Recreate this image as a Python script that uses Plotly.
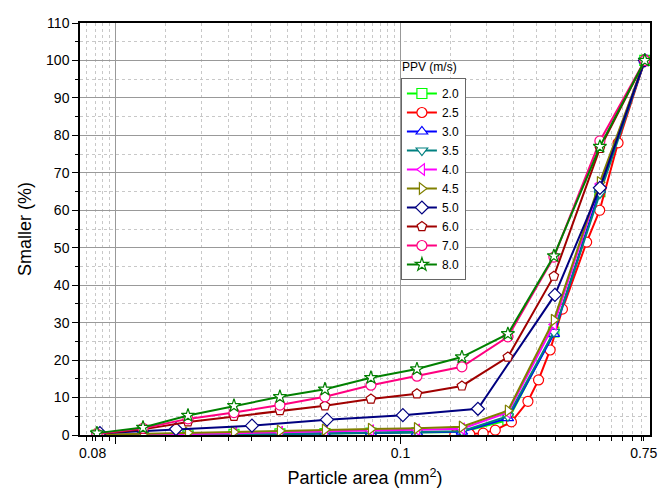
import plotly.graph_objects as go
import math

# ---------------- data ----------------
ppv_labels = ["2.0", "2.5", "3.0", "3.5", "4.0", "4.5", "5.0", "6.0", "7.0", "8.0"]

# particle area (mm^2) sample points
x_grid = [0.0086, 0.01248, 0.01795, 0.02603, 0.03773, 0.05429, 0.07873,
          0.1142, 0.1642, 0.2381, 0.3453, 0.5008, 0.72]
x_diam = [0.00881, 0.01629, 0.0301, 0.05518, 0.1019, 0.1869, 0.3481, 0.5008, 0.72]
x_red = [0.155, 0.175, 0.195, 0.215, 0.245, 0.28, 0.305, 0.335, 0.37, 0.45, 0.5, 0.58, 0.72]

y_20 = [0, 0, 0, 0.2, 0.3, 0.4, 0.5, 0.6, 0.8, 4.0, 27.5, 65.0, 100]
y_25 = [0, 0.2, 0.5, 1.3, 3.5, 9.0, 14.7, 22.7, 33.6, 51.5, 60.0, 78.0, 100]
y_30 = [0, 0, 0.1, 0.2, 0.3, 0.4, 0.5, 0.6, 0.9, 4.5, 27.0, 65.5, 100]
y_35 = [0, 0, 0.1, 0.2, 0.3, 0.5, 0.6, 0.8, 1.0, 5.0, 27.5, 64.5, 100]
y_40 = [0, 0.1, 0.3, 0.5, 0.8, 1.0, 1.2, 1.4, 1.7, 6.0, 29.5, 67.0, 100]
y_45 = [0.1, 0.3, 0.6, 0.8, 1.1, 1.4, 1.6, 1.8, 2.2, 6.5, 30.7, 67.5, 100]
y_50 = [0.5, 1.6, 2.5, 4.1, 5.3, 7.0, 37.4, 66.0, 100]
y_60 = [0.3, 1.5, 3.5, 5.0, 6.5, 7.8, 9.6, 11.0, 13.1, 20.8, 42.4, 76.5, 100]
y_70 = [0.3, 1.8, 4.3, 6.0, 8.0, 10.2, 13.3, 15.7, 18.2, 26.2, 47.5, 78.5, 100]
y_80 = [0.5, 2.0, 5.2, 7.8, 10.2, 12.2, 15.3, 17.6, 20.8, 27.0, 47.8, 77.0, 100]

x_tick_vals = [0.0083, 0.1, 0.714]
x_tick_text = ["0.08", "0.1", "0.75"]
x_major_grid = [0.01, 0.1]
x_minor_vals = [0.0079, 0.0085, 0.009, 0.0095,
                0.015, 0.02, 0.025, 0.03, 0.035, 0.04, 0.045, 0.05, 0.055, 0.06,
                0.065, 0.07, 0.075, 0.08, 0.085, 0.09, 0.095,
                0.15, 0.2, 0.25, 0.3, 0.35, 0.4, 0.45, 0.5, 0.55, 0.6, 0.65, 0.7]

# ---------------- styles ----------------
series = [
    ("2.0", x_grid, y_20, "#00FF00", "square"),
    ("2.5", x_red, y_25, "#FF0000", "circle"),
    ("3.0", x_grid, y_30, "#0000FF", "triangle-up"),
    ("3.5", x_grid, y_35, "#008080", "triangle-down"),
    ("4.0", x_grid, y_40, "#FF00FF", "triangle-left"),
    ("4.5", x_grid, y_45, "#808000", "triangle-right"),
    ("5.0", x_diam, y_50, "#000080", "diamond"),
    ("6.0", x_grid, y_60, "#A00000", "pentagon"),
    ("7.0", x_grid, y_70, "#FF0080", "circle"),
    ("8.0", x_grid, y_80, "#008000", "star"),
]

fig = go.Figure()
for name, xs, ys, col, sym in series:
    fig.add_trace(go.Scatter(
        x=xs, y=ys, name=name, mode="lines+markers",
        line=dict(color=col, width=2),
        marker=dict(symbol=sym, size=10, color="white",
                    line=dict(color=col, width=1.2)),
    ))

FONT = "Arial, Liberation Sans, sans-serif"
lo, hi = 0.0075, 0.7508

fig.update_layout(
    width=659, height=491,
    margin=dict(l=80, r=9, t=23, b=56, autoexpand=False),
    paper_bgcolor="white", plot_bgcolor="white",
    font=dict(family=FONT, color="black", size=14),
    showlegend=True,
    legend=dict(x=0.563, y=0.8665, xanchor="left", yanchor="top",
                bgcolor="white", bordercolor="#666666", borderwidth=1,
                font=dict(size=12, family=FONT), tracegroupgap=0,
                itemwidth=30),
    xaxis=dict(type="log", range=[math.log10(lo), math.log10(hi)], automargin=False,
               tickmode="array", tickvals=x_tick_vals, ticktext=x_tick_text,
               ticklabeloverflow="allow",
               ticks="outside", ticklen=4, tickwidth=1.2, tickcolor="black",
               showgrid=False, zeroline=False,
               showline=True, linecolor="black", linewidth=1.5, mirror=True,
               tickfont=dict(size=14),
               title=dict(text="Particle area (mm<sup>2</sup>)", font=dict(size=18), standoff=12),
               minor=dict(tickmode="array", tickvals=x_minor_vals, ticks="outside",
                          ticklen=4, tickcolor="black", tickwidth=1,
                          showgrid=True, gridcolor="#c8c8c8", griddash="dot", gridwidth=1)),
    xaxis2=dict(type="log", range=[math.log10(lo), math.log10(hi)], overlaying="x",
                anchor="y", side="bottom", tickmode="array", tickvals=x_major_grid,
                showticklabels=False, ticks="outside", ticklen=8, tickwidth=1.2,
                tickcolor="black", showgrid=True, gridcolor="#999999", gridwidth=1,
                zeroline=False, showline=False, automargin=False),
    yaxis=dict(range=[0, 110], tickmode="linear", tick0=0, dtick=10, automargin=False,
               ticks="outside", ticklen=6, tickwidth=1.2, tickcolor="black",
               showgrid=True, gridcolor="#999999", gridwidth=1, zeroline=False,
               showline=True, linecolor="black", linewidth=1.5, mirror=True,
               tickfont=dict(size=14),
               title=dict(text="Smaller (%)", font=dict(size=18), standoff=10),
               minor=dict(dtick=5, ticks="outside", ticklen=3, tickcolor="black",
                          showgrid=True, gridcolor="#c8c8c8", griddash="dot", gridwidth=1)),
    annotations=[dict(text="PPV (m/s)", xref="paper", yref="paper",
                      x=0.5614, y=0.893, xanchor="left", yanchor="middle",
                      showarrow=False, font=dict(size=12, family=FONT))],
)
# invisible trace to activate overlay axis for grid/ticks
fig.add_trace(go.Scatter(x=[0.1], y=[0], xaxis="x2", mode="markers",
                         marker=dict(opacity=0), showlegend=False, hoverinfo="skip"))

fig.write_html("out.html")
